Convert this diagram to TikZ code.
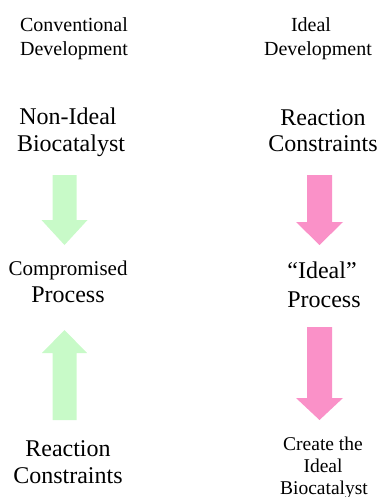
\documentclass[tikz,border=0pt]{standalone}
\usepackage{fontspec}
\setmainfont{Liberation Serif}
\newfontfamily\serifface{Liberation Serif}
\definecolor{paleGreen}{RGB}{200,250,200}
\definecolor{softPink}{RGB}{250,145,200}
\begin{document}
\begin{tikzpicture}[x=1pt,y=-1pt,
  hdr/.style={anchor=base,inner sep=0pt,font=\serifface\fontsize{20}{24}\selectfont},
  big/.style={anchor=base,inner sep=0pt,font=\serifface\fontsize{24}{28}\selectfont},
  mid/.style={anchor=base,inner sep=0pt,font=\serifface\fontsize{21}{24}\selectfont},
  sml/.style={anchor=base,inner sep=0pt,font=\serifface\fontsize{19.5}{22}\selectfont},
  garrow/.style={fill=paleGreen},
  parrow/.style={fill=softPink}]
\useasboundingbox (0,0) rectangle (385,497);
% headers
\node[hdr] (convA) at (74,32) {Conventional};
\node[hdr] (convB) at (74,56) {Development};
\node[hdr] (idA) at (311,32) {Ideal};
\node[hdr] (idB) at (318,56) {Development};
% top labels
\node[big] (nonA) at (68,125) {Non-Ideal};
\node[big] (nonB) at (71,152) {Biocatalyst};
\node[big] (rcA) at (323,126) {Reaction};
\node[big] (rcB) at (323,152) {Constraints};
% middle labels
\node[mid] (cpA) at (68,275) {Compromised};
\node[big] (cpB) at (68,302) {Process};
\node[big] (ipA) at (322,278) {“Ideal”};
\node[big] (ipB) at (324,307) {Process};
% bottom labels
\node[big] (brA) at (68,456) {Reaction};
\node[big] (brB) at (68,483) {Constraints};
\node[sml] (ciA) at (323,450) {Create the};
\node[sml] (ciB) at (323,472) {Ideal};
\node[sml] (ciC) at (324,494) {Biocatalyst};
% arrow anchors
\coordinate (g1) at (64.5,175);
\coordinate (g2) at (64.5,330);
\coordinate (p1) at (319.5,175);
\coordinate (p2) at (319.5,327);
% green down arrow
\fill[garrow] (g1) ++(-12,0) -- ++(24,0) -- ++(0,45) -- ++(11,0) -- ++(-23,25) -- ++(-23,-25) -- ++(11,0) -- cycle;
% green up arrow
\fill[garrow] (g2) -- ++(22.5,23) -- ++(-10.5,0) -- ++(0,67) -- ++(-24,0) -- ++(0,-67) -- ++(-10.5,0) -- cycle;
% pink down arrow 1
\fill[parrow] (p1) ++(-12.5,0) -- ++(25,0) -- ++(0,47) -- ++(11,0) -- ++(-23.5,23) -- ++(-23.5,-23) -- ++(11,0) -- cycle;
% pink down arrow 2
\fill[parrow] (p2) ++(-12.5,0) -- ++(25,0) -- ++(0,71) -- ++(11,0) -- ++(-23.5,22) -- ++(-23.5,-22) -- ++(11,0) -- cycle;
\end{tikzpicture}
\end{document}
